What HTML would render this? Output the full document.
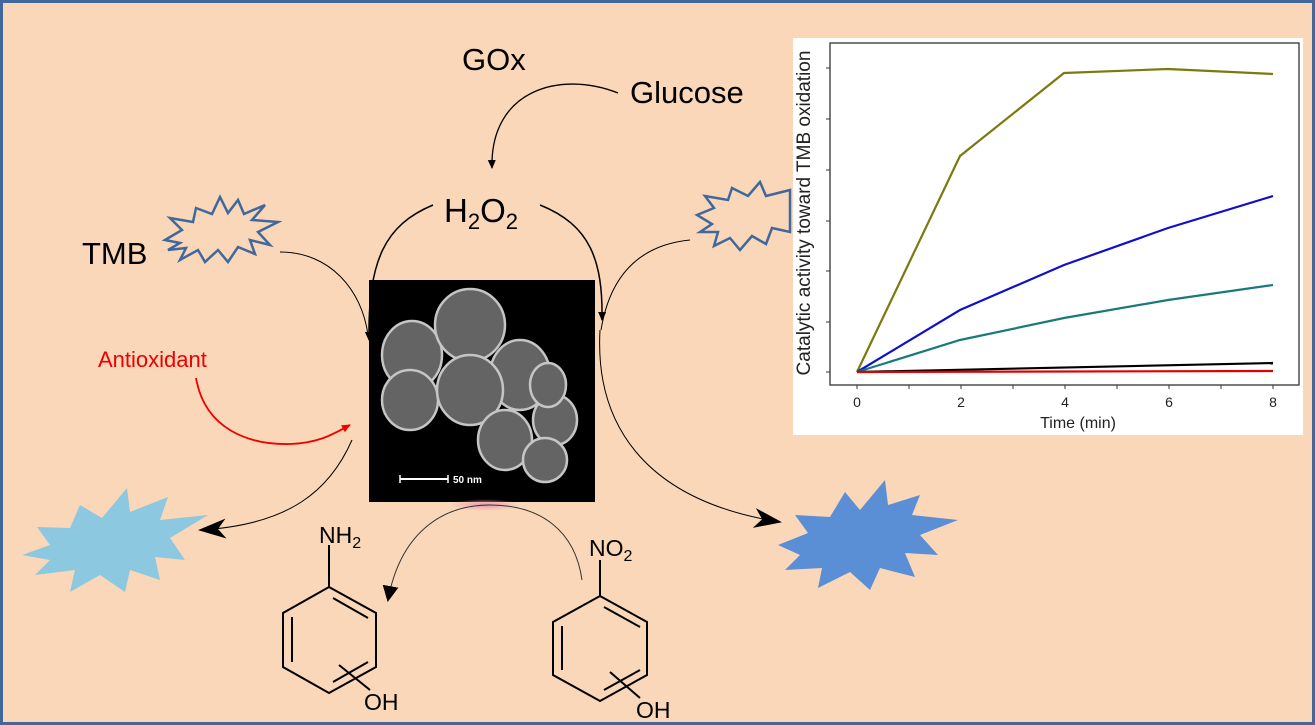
<!DOCTYPE html>
<html><head><meta charset="utf-8"><style>
html,body{margin:0;padding:0}
body{width:1315px;height:725px;overflow:hidden;background:#fad7b8}
svg{display:block}
text{font-family:"Liberation Sans",sans-serif}
</style></head><body>
<svg width="1315" height="725" viewBox="0 0 1315 725" xmlns="http://www.w3.org/2000/svg">
<defs>
<marker id="ah" markerWidth="10" markerHeight="10" refX="8" refY="5" orient="auto" markerUnits="userSpaceOnUse"><path d="M0,1 L9,5 L0,9 z" fill="#000"/></marker>
<marker id="ahr" markerWidth="10" markerHeight="10" refX="8" refY="5" orient="auto" markerUnits="userSpaceOnUse"><path d="M0,1 L9,5 L0,9 z" fill="#e00"/></marker>
<marker id="big" markerWidth="30" markerHeight="24" refX="26" refY="12" orient="auto" markerUnits="userSpaceOnUse"><path d="M0,2 L28,12 L0,22 L8,12 z" fill="#000"/></marker>
<marker id="mid" markerWidth="18" markerHeight="24" refX="14" refY="8" orient="auto" markerUnits="userSpaceOnUse"><path d="M0,0 L16,8 L0,16 z" fill="#000"/></marker>
<radialGradient id="pg"><stop offset="0" stop-color="#e89ab0"/><stop offset="1" stop-color="#e89ab0" stop-opacity="0"/></radialGradient>
</defs>
<rect x="1.5" y="1.5" width="1312" height="722" fill="#fad7b8" stroke="#41689c" stroke-width="3"/>

<text x="462" y="70" font-size="31" fill="#000">GOx</text>
<text x="630" y="103" font-size="31" fill="#000">Glucose</text>
<path d="M618,93 C560,70 490,90 492,168" fill="none" stroke="#000" stroke-width="1.3" marker-end="url(#ah)"/>
<text x="444" y="222" font-size="33" fill="#000">H<tspan font-size="22" dy="7">2</tspan><tspan dy="-7">O</tspan><tspan font-size="22" dy="7">2</tspan></text>

<path d="M433,205 C385,225 368,260 369,340" fill="none" stroke="#000" stroke-width="1.5" marker-end="url(#ah)"/>
<path d="M540,205 C590,225 603,260 602,320" fill="none" stroke="#000" stroke-width="1.5" marker-end="url(#ah)"/>

<text x="82" y="264" font-size="31" fill="#000">TMB</text>
<path d="M165,240 L182,230 L170,218 L193,222 L196,208 L212,214 L220,197 L228,213 L238,200 L244,214 L265,205 L252,220 L278,222 L258,232 L270,245 L250,240 L255,254 L238,247 L228,262 L218,250 L205,262 L198,250 L180,260 L186,248 L168,250 L180,243 z" fill="none" stroke="#41689c" stroke-width="2.5"/>
<path d="M280,252 C330,252 362,290 368,335" fill="none" stroke="#000" stroke-width="1"/>
<path d="M697,215 L714,208 L705,196 L728,200 L732,188 L748,196 L760,182 L766,196 L790,190 L790,232 L772,228 L766,244 L752,236 L740,250 L730,238 L714,246 L718,232 L700,232 L712,224 z" fill="none" stroke="#41689c" stroke-width="2.5"/>
<path d="M690,240 C640,245 610,275 601,330" fill="none" stroke="#000" stroke-width="1"/>

<text x="98" y="367" font-size="22" fill="#e00" font-family="Liberation Serif,serif">Antioxidant</text>
<path d="M196,378 C205,430 250,445 290,444 C320,443 335,433 350,425" fill="none" stroke="#e00" stroke-width="1.8" marker-end="url(#ahr)"/>

<rect x="369" y="280" width="226" height="222" fill="#000"/>
<g fill="#6a6a6a" stroke="#d0d0d0" stroke-width="2.5" opacity="0.95">
<ellipse cx="412" cy="355" rx="30" ry="34"/>
<ellipse cx="410" cy="400" rx="28" ry="30"/>
<ellipse cx="470" cy="325" rx="35" ry="36"/>
<ellipse cx="520" cy="375" rx="30" ry="35"/>
<ellipse cx="470" cy="390" rx="33" ry="35"/>
<ellipse cx="555" cy="420" rx="22" ry="25"/>
<ellipse cx="505" cy="440" rx="27" ry="30"/>
<ellipse cx="545" cy="460" rx="22" ry="22"/>
<ellipse cx="548" cy="385" rx="18" ry="22"/>
</g>
<line x1="400" y1="479" x2="448" y2="479" stroke="#fff" stroke-width="2"/>
<line x1="400" y1="475" x2="400" y2="483" stroke="#fff" stroke-width="1.5"/>
<line x1="448" y1="475" x2="448" y2="483" stroke="#fff" stroke-width="1.5"/>
<text x="453" y="483" font-size="10" fill="#fff" font-weight="bold">50 nm</text>

<path d="M352,440 C330,490 290,525 200,530" fill="none" stroke="#000" stroke-width="1" marker-end="url(#big)"/>
<path d="M22,555 L50,545 L37,527 L70,528 L80,505 L102,518 L127,488 L130,512 L168,497 L160,520 L208,515 L170,538 L185,560 L155,557 L160,580 L130,570 L125,592 L100,575 L70,592 L75,570 L35,575 L50,560 z" fill="#8cc8e0"/>

<path d="M600,330 C595,420 640,500 780,522" fill="none" stroke="#000" stroke-width="1" marker-end="url(#big)"/>
<path d="M778,545 L808,533 L795,515 L830,517 L845,492 L860,510 L885,480 L888,505 L920,495 L912,515 L958,520 L920,535 L938,555 L905,553 L915,577 L880,568 L870,590 L850,572 L818,588 L822,568 L785,570 L800,555 z" fill="#5b8fd5"/>

<ellipse cx="485" cy="505" rx="35" ry="6" fill="url(#pg)"/>
<path d="M582,580 C575,530 540,505 490,505 C440,505 400,535 388,600" fill="none" stroke="#333" stroke-width="1" marker-end="url(#mid)"/>

<g stroke="#000" stroke-width="2" fill="none">
<line x1="329" y1="545" x2="329" y2="587"/>
<path d="M329,587 L376,613 L376,667 L329,693 L283,667 L283,613 Z"/>
<line x1="333" y1="598" x2="368" y2="618"/>
<line x1="292" y1="617" x2="292" y2="662"/>
<line x1="333" y1="682" x2="368" y2="662"/>
<line x1="339" y1="665" x2="370" y2="690"/>
</g>
<text x="319" y="543" font-size="23" fill="#000">NH<tspan font-size="16" dy="5">2</tspan></text>
<text x="364" y="710" font-size="23" fill="#000">OH</text>

<g stroke="#000" stroke-width="2" fill="none">
<line x1="600" y1="560" x2="600" y2="596"/>
<path d="M600,596 L647,622 L647,675 L600,701 L553,675 L553,622 Z"/>
<line x1="604" y1="607" x2="640" y2="627"/>
<line x1="562" y1="626" x2="562" y2="670"/>
<line x1="604" y1="690" x2="640" y2="670"/>
<line x1="610" y1="672" x2="640" y2="698"/>
</g>
<text x="589" y="556" font-size="23" fill="#000">NO<tspan font-size="16" dy="5">2</tspan></text>
<text x="636" y="718" font-size="23" fill="#000">OH</text>

<rect x="793" y="38" width="510" height="397" fill="#fff"/>
<rect x="830" y="43" width="469" height="342" fill="none" stroke="#333" stroke-width="1.3"/>
<g stroke="#333" stroke-width="1">
<line x1="826" y1="68" x2="830" y2="68"/><line x1="826" y1="119" x2="830" y2="119"/><line x1="826" y1="170" x2="830" y2="170"/><line x1="826" y1="221" x2="830" y2="221"/><line x1="826" y1="271" x2="830" y2="271"/><line x1="826" y1="322" x2="830" y2="322"/><line x1="826" y1="372" x2="830" y2="372"/>
<line x1="857" y1="385" x2="857" y2="389"/><line x1="909" y1="385" x2="909" y2="389"/><line x1="961" y1="385" x2="961" y2="389"/><line x1="1013" y1="385" x2="1013" y2="389"/><line x1="1065" y1="385" x2="1065" y2="389"/><line x1="1117" y1="385" x2="1117" y2="389"/><line x1="1169" y1="385" x2="1169" y2="389"/><line x1="1221" y1="385" x2="1221" y2="389"/><line x1="1273" y1="385" x2="1273" y2="389"/>
</g>
<g font-size="14" fill="#222" text-anchor="middle">
<text x="857" y="407">0</text><text x="961" y="407">2</text><text x="1065" y="407">4</text><text x="1169" y="407">6</text><text x="1273" y="407">8</text>
</g>
<text x="1078" y="428" font-size="16" fill="#222" text-anchor="middle">Time (min)</text>
<text transform="translate(810,213) rotate(-90)" font-size="19" fill="#222" text-anchor="middle">Catalytic activity toward TMB oxidation</text>
<g fill="none" stroke-width="2.2">
<polyline points="857,372 960,156 1064,73 1168,69 1273,74" stroke="#7a7a10"/>
<polyline points="857,372 960,310 1064,265 1168,228 1273,196" stroke="#1010c8"/>
<polyline points="857,372 960,340 1064,318 1168,300 1273,285" stroke="#1a7a7a"/>
<polyline points="857,372 1273,363" stroke="#000"/>
<polyline points="857,372 1273,371" stroke="#e00000"/>
</g>
</svg>
</body></html>
